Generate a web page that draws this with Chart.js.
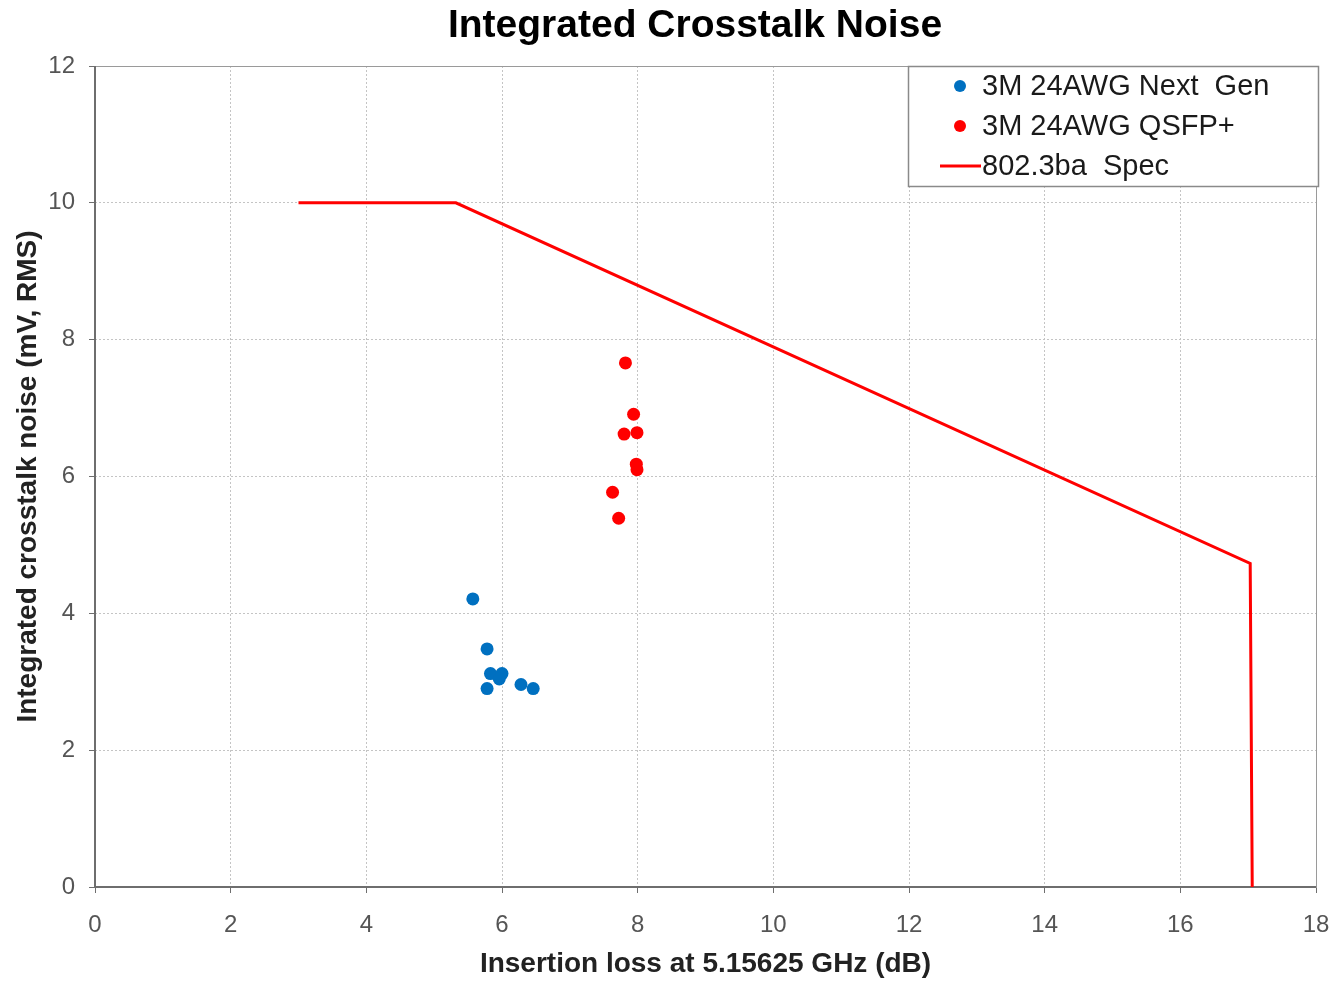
<!DOCTYPE html>
<html>
<head>
<meta charset="utf-8">
<script src="https://cdn.jsdelivr.net/npm/chart.js@4"></script>
<style>
    html, body { margin: 0; padding: 0; background: #fff; }
    #wrap { width: 1334px; height: 981px; }
</style>
</head>
<body>
<div id="wrap"><canvas id="icn"></canvas></div>
<script>
// Insertion loss (dB) vs integrated crosstalk noise (mV RMS)
const nextGenIL = [5.57, 5.78, 5.83, 6.00, 5.96, 5.78, 6.28, 6.46];
const nextGenICN = [4.21, 3.48, 3.12, 3.12, 3.04, 2.90, 2.96, 2.90];

const qsfpIL = [7.82, 7.94, 7.80, 7.99, 7.98, 7.99, 7.63, 7.72];
const qsfpICN = [7.66, 6.91, 6.62, 6.64, 6.18, 6.10, 5.77, 5.39];

// 802.3ba limit line
const specIL = [3.0, 5.32, 17.03, 17.06];
const specICN = [10, 10, 4.73, 0];

const seriesNames = ["3M 24AWG Next  Gen", "3M 24AWG QSFP+", "802.3ba  Spec"];
const seriesColors = ["#0070C0", "#FF0000", "#FF0000"];
const chartTitle = "Integrated Crosstalk Noise";

function toPoints(xs, ys) {
    return xs.map((x, i) => ({x: x, y: ys[i]}));
}

const font = "'Liberation Sans', Arial, sans-serif";

// title, frame around the plot area and the boxed legend in the top right corner
const framePlugin = {
    id: "frame",
    beforeDatasetsDraw(chart) {
        const a = chart.chartArea;
        const ctx = chart.ctx;
        ctx.save();
        ctx.strokeStyle = "#9a9a9a";
        ctx.lineWidth = 1;
        ctx.strokeRect(a.left + 0.5, a.top + 0.5, a.right - a.left, a.bottom - a.top);
        ctx.strokeStyle = "#6e6e6e";
        ctx.lineWidth = 2;
        ctx.beginPath();
        ctx.moveTo(a.left, a.top);
        ctx.lineTo(a.left, a.bottom);
        ctx.lineTo(a.right, a.bottom);
        ctx.stroke();
        ctx.restore();
    },
    afterDraw(chart) {
        const ctx = chart.ctx;
        const a = chart.chartArea;
        ctx.save();
        ctx.fillStyle = "#000";
        ctx.font = "bold 39px " + font;
        ctx.textAlign = "center";
        ctx.textBaseline = "middle";
        ctx.fillText(chartTitle, 695, 26);

        const bx = 908, by = a.top, bw = a.right - bx + 2, bh = 120;
        ctx.fillStyle = "#fff";
        ctx.fillRect(bx, by, bw, bh);
        ctx.strokeStyle = "#8a8a8a";
        ctx.lineWidth = 1.5;
        ctx.strokeRect(bx + 0.5, by + 0.5, bw, bh);
        ctx.font = "29px " + font;
        ctx.textAlign = "left";
        chart.data.datasets.forEach((ds, i) => {
            const y = by + 20 + i * 40;
            if (ds.showLine) {
                ctx.strokeStyle = ds.borderColor;
                ctx.lineWidth = 3;
                ctx.beginPath();
                ctx.moveTo(940, y);
                ctx.lineTo(981, y);
                ctx.stroke();
            } else {
                ctx.fillStyle = ds.backgroundColor;
                ctx.beginPath();
                ctx.arc(960, y, 6, 0, Math.PI * 2);
                ctx.fill();
            }
            ctx.fillStyle = "#1a1a1a";
            ctx.fillText(ds.label, 982, y + 1);
        });
        ctx.restore();
    }
};

new Chart(document.getElementById("icn"), {
    type: "scatter",
    data: {
        datasets: [
            {
                label: seriesNames[0],
                data: toPoints(nextGenIL, nextGenICN),
                backgroundColor: seriesColors[0],
                borderColor: seriesColors[0],
                pointRadius: 6.5,
                pointBorderWidth: 0
            },
            {
                label: seriesNames[1],
                data: toPoints(qsfpIL, qsfpICN),
                backgroundColor: seriesColors[1],
                borderColor: seriesColors[1],
                pointRadius: 6.5,
                pointBorderWidth: 0
            },
            {
                label: seriesNames[2],
                data: toPoints(specIL, specICN),
                showLine: true,
                borderColor: seriesColors[2],
                backgroundColor: seriesColors[2],
                borderWidth: 3,
                pointRadius: 0,
                tension: 0
            }
        ]
    },
    options: {
        responsive: true,
        maintainAspectRatio: false,
        animation: false,
        layout: {padding: {left: 0, right: 18, top: 66, bottom: 0}},
        plugins: {
            legend: {display: false},
            tooltip: {enabled: false},
            title: {display: false}
        },
        scales: {
            x: {
                type: "linear",
                min: 0,
                max: 18,
                ticks: {
                    stepSize: 2,
                    color: "#555",
                    font: {family: font, size: 24},
                    padding: 18
                },
                grid: {
                    color: "#c4c4c4",
                    lineWidth: 1,
                    tickLength: 6,
                    tickColor: "#6e6e6e",
                    drawTicks: true
                },
                border: {display: false, dash: [2, 2]},
                title: {
                    display: true,
                    text: "Insertion loss at 5.15625 GHz (dB)",
                    color: "#222",
                    font: {family: font, size: 28, weight: "bold"},
                    padding: {top: 0, bottom: 0}
                },
                afterFit(scale) {
                    scale.height = 94;
                    scale.paddingLeft = 0;
                    scale.paddingRight = 0;
                }
            },
            y: {
                type: "linear",
                min: 0,
                max: 12,
                ticks: {
                    stepSize: 2,
                    color: "#555",
                    font: {family: font, size: 24},
                    padding: 14
                },
                grid: {
                    color: "#c4c4c4",
                    lineWidth: 1,
                    tickLength: 6,
                    tickColor: "#6e6e6e",
                    drawTicks: true
                },
                border: {display: false, dash: [2, 2]},
                title: {
                    display: true,
                    text: "Integrated crosstalk noise (mV, RMS)",
                    color: "#222",
                    font: {family: font, size: 28, weight: "bold"},
                    padding: {top: 11, bottom: 0}
                },
                afterFit(scale) { scale.width = 95; }
            }
        }
    },
    plugins: [framePlugin]
});
</script>
</body>
</html>
